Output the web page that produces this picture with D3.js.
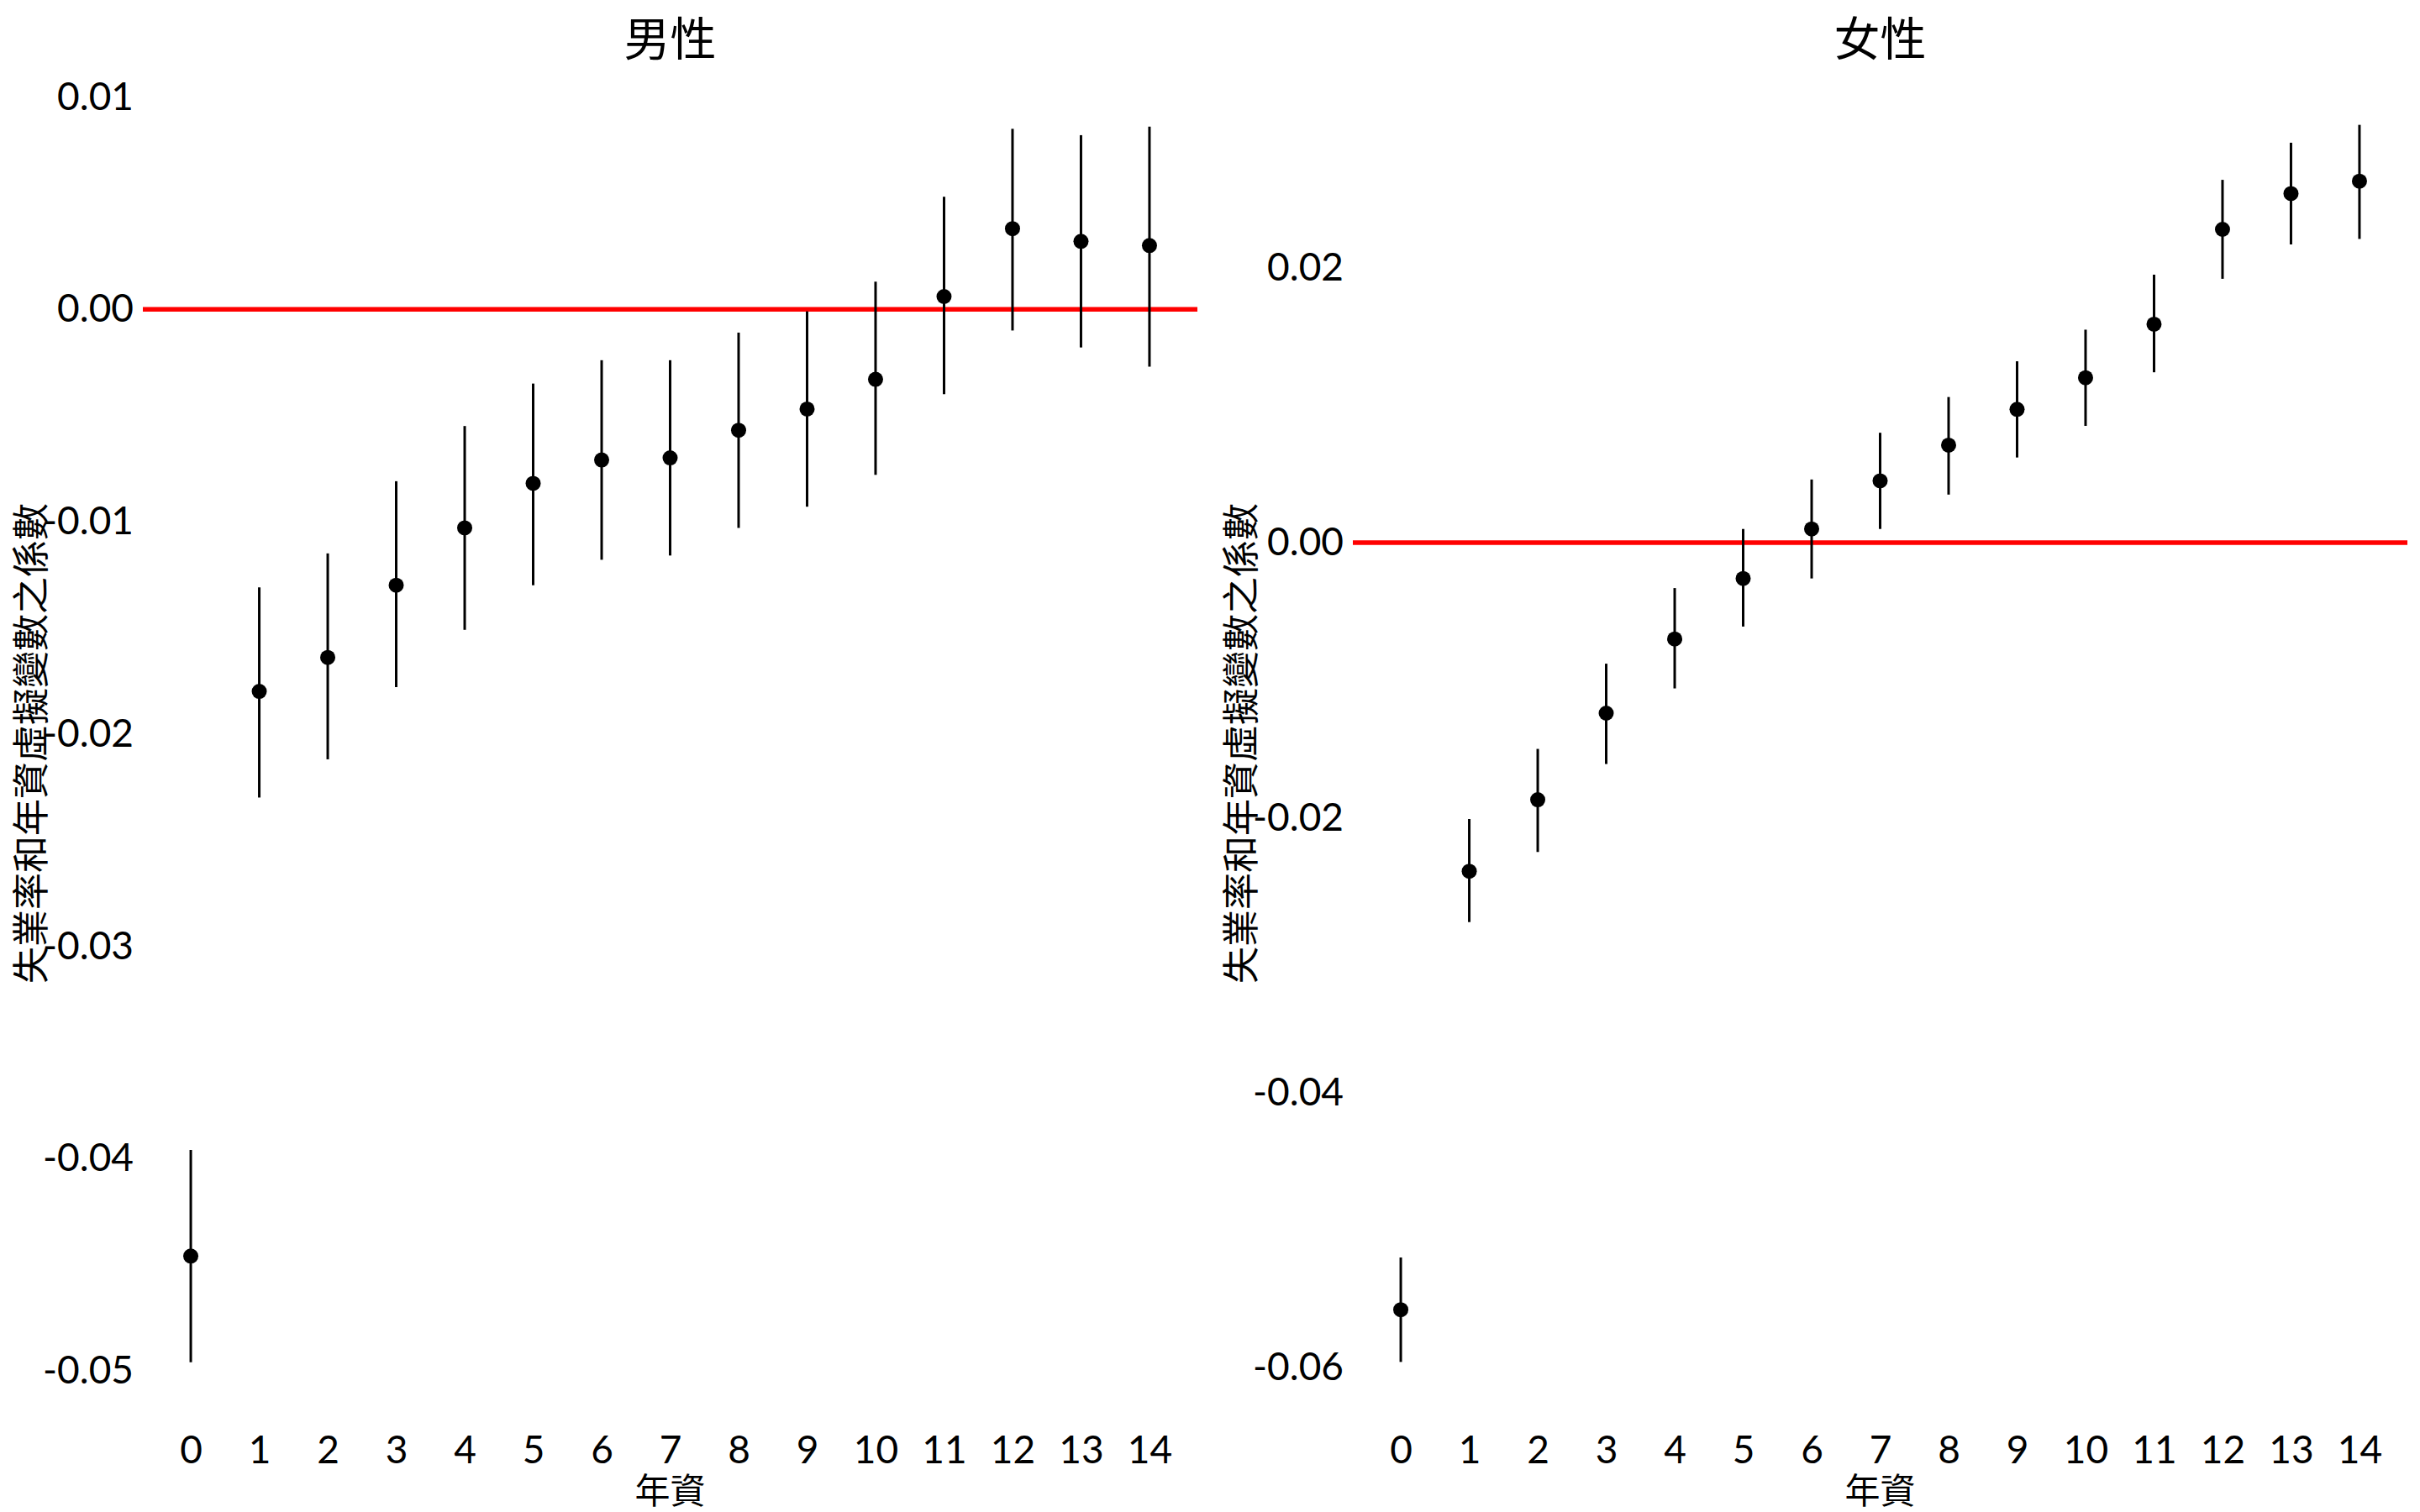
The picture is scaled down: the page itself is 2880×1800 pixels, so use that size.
<!DOCTYPE html>
<html>
<head>
<meta charset="utf-8">
<script src="https://cdn.jsdelivr.net/npm/d3@7"></script>
<style>
  html, body { margin: 0; padding: 0; background: #fff; }
  svg { display: block; }
</style>
</head>
<body>
<svg id="chart" width="2880" height="1800"></svg>
<script>
// ---- Data ----
const tenure = [0, 1, 2, 3, 4, 5, 6, 7, 8, 9, 10, 11, 12, 13, 14];

const maleCoef  = [-0.0446, -0.0180, -0.0164, -0.0130, -0.0103, -0.0082, -0.0071, -0.0070, -0.0057, -0.0047, -0.0033, 0.0006, 0.0038, 0.0032, 0.0030];
const maleLower = [-0.0496, -0.0230, -0.0212, -0.0178, -0.0151, -0.0130, -0.0118, -0.0116, -0.0103, -0.0093, -0.0078, -0.0040, -0.0010, -0.0018, -0.0027];
const maleUpper = [-0.0396, -0.0131, -0.0115, -0.0081, -0.0055, -0.0035, -0.0024, -0.0024, -0.0011, -0.0001, 0.0013, 0.0053, 0.0085, 0.0082, 0.0086];

const femaleCoef  = [-0.0558, -0.0239, -0.0187, -0.0124, -0.0070, -0.0026, 0.0010, 0.0045, 0.0071, 0.0097, 0.0120, 0.0159, 0.0228, 0.0254, 0.0263];
const femaleLower = [-0.0596, -0.0276, -0.0225, -0.0161, -0.0106, -0.0061, -0.0026, 0.0010, 0.0035, 0.0062, 0.0085, 0.0124, 0.0192, 0.0217, 0.0221];
const femaleUpper = [-0.0520, -0.0201, -0.0150, -0.0088, -0.0033, 0.0010, 0.0046, 0.0080, 0.0106, 0.0132, 0.0155, 0.0195, 0.0264, 0.0291, 0.0304];

const maleTicks   = [0.01, 0.00, -0.01, -0.02, -0.03, -0.04, -0.05];
const femaleTicks = [0.02, 0.00, -0.02, -0.04, -0.06];

const panelTitles = ["男性", "女性"];
const yTitle = "失業率和年資虛擬變數之係數";
const xTitle = "年資";

// ---- Layout ----
const svg = d3.select("#chart");
const cjk = "'Noto Sans CJK TC', 'Noto Sans CJK SC', sans-serif";
const num = "Lato, 'Noto Sans', sans-serif";

const panels = [
  { title: panelTitles[0], coef: maleCoef, lo: maleLower, hi: maleUpper, ticks: maleTicks,
    left: 170, right: 1425, yDomain: [-0.0525, 0.0116] },
  { title: panelTitles[1], coef: femaleCoef, lo: femaleLower, hi: femaleUpper, ticks: femaleTicks,
    left: 1610, right: 2865, yDomain: [-0.0641, 0.0349] }
];
const plotTop = 75, plotBottom = 1695;

panels.forEach(p => {
  const x = d3.scaleLinear().domain([-0.7, 14.7]).range([p.left, p.right]);
  const y = d3.scaleLinear().domain(p.yDomain).range([plotBottom, plotTop]);
  const g = svg.append("g");

  // Title
  g.append("text")
    .attr("x", (p.left + p.right) / 2).attr("y", 42)
    .attr("text-anchor", "middle").attr("dominant-baseline", "central")
    .style("font-family", cjk).style("font-size", "55px").attr("fill", "#000")
    .text(p.title);

  // Y axis
  const ya = g.append("g").attr("transform", `translate(${p.left - 11},0)`)
    .call(d3.axisLeft(y).tickValues(p.ticks).tickSize(0).tickPadding(0)
      .tickFormat(d => d.toFixed(2)));
  ya.select(".domain").remove();
  ya.selectAll("text").style("font-family", num).style("font-size", "46px").attr("fill", "#000");

  // X axis
  const xa = g.append("g").attr("transform", `translate(0,${1742})`)
    .call(d3.axisBottom(x).tickValues(tenure).tickSize(0).tickPadding(0)
      .tickFormat(d3.format("d")));
  xa.select(".domain").remove();
  xa.selectAll("text").attr("dy", 0).attr("y", 0)
    .style("font-family", num).style("font-size", "46px").attr("fill", "#000");

  // Axis titles
  g.append("text")
    .attr("transform", `translate(${p.left - 136},${(plotTop + plotBottom) / 2}) rotate(-90)`)
    .attr("text-anchor", "middle").attr("dominant-baseline", "central")
    .style("font-family", cjk).style("font-size", "44px").attr("fill", "#000")
    .text(yTitle);
  g.append("text")
    .attr("x", (p.left + p.right) / 2).attr("y", 1771)
    .attr("text-anchor", "middle").attr("dominant-baseline", "central")
    .style("font-family", cjk).style("font-size", "42px").attr("fill", "#000")
    .text(xTitle);

  // Zero line
  g.append("line")
    .attr("x1", p.left).attr("x2", p.right)
    .attr("y1", y(0)).attr("y2", y(0))
    .attr("stroke", "#ff0000").attr("stroke-width", 5.5);

  // Error bars
  g.selectAll(".err").data(tenure).enter().append("line")
    .attr("x1", (d) => x(d)).attr("x2", (d) => x(d))
    .attr("y1", (d, i) => y(p.lo[i])).attr("y2", (d, i) => y(p.hi[i]))
    .attr("stroke", "#000").attr("stroke-width", 3);

  // Points
  g.selectAll(".pt").data(tenure).enter().append("circle")
    .attr("cx", (d) => x(d)).attr("cy", (d, i) => y(p.coef[i]))
    .attr("r", 9).attr("fill", "#000");
});
</script>
</body>
</html>
